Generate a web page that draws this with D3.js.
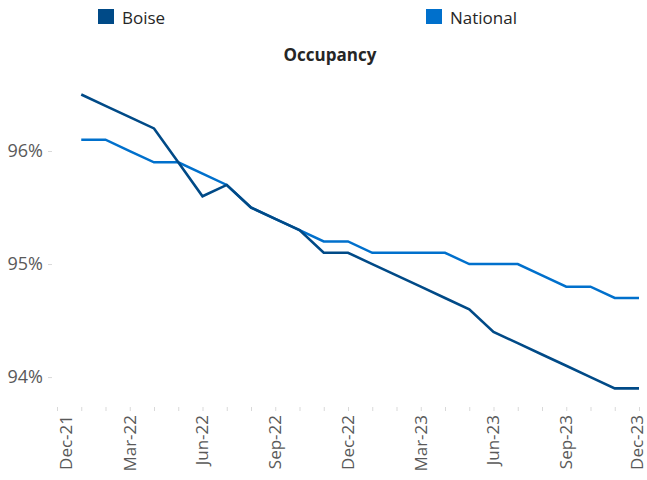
<!DOCTYPE html>
<html>
<head>
<meta charset="utf-8">
<script src="https://cdn.jsdelivr.net/npm/d3@7"></script>
<style>
  body { margin: 0; background: #fff; }
  text { font-family: "Open Sans", "Noto Sans", sans-serif; }
</style>
</head>
<body>
<div id="chart"></div>
<script>
// month categories on the date axis (Dec-21 .. Dec-23)
const months = ["Dec-21", "Jan-22", "Feb-22", "Mar-22", "Apr-22", "May-22", "Jun-22", "Jul-22",
  "Aug-22", "Sep-22", "Oct-22", "Nov-22", "Dec-22", "Jan-23", "Feb-23", "Mar-23", "Apr-23",
  "May-23", "Jun-23", "Jul-23", "Aug-23", "Sep-23", "Oct-23", "Nov-23", "Dec-23"];
const labelMonths = ["Dec-21", "Mar-22", "Jun-22", "Sep-22", "Dec-22", "Mar-23", "Jun-23", "Sep-23", "Dec-23"];

// series values start at Jan-22
const dataMonths = months.slice(1);
const boise = [96.5, 96.4, 96.3, 96.2, 95.9, 95.6, 95.7, 95.5, 95.4, 95.3, 95.1, 95.1,
  95.0, 94.9, 94.8, 94.7, 94.6, 94.4, 94.3, 94.2, 94.1, 94.0, 93.9, 93.9];
const national = [96.1, 96.1, 96.0, 95.9, 95.9, 95.8, 95.7, 95.5, 95.4, 95.3, 95.2, 95.2,
  95.1, 95.1, 95.1, 95.1, 95.0, 95.0, 95.0, 94.9, 94.8, 94.8, 94.7, 94.7];
const yTicks = [94, 95, 96];

const width = 647, height = 480;
const textColor = "#595959";
const boiseColor = "#004A87";
const nationalColor = "#0070CC";

const svg = d3.select("#chart").append("svg")
  .attr("width", width)
  .attr("height", height);

const x = d3.scalePoint()
  .domain(months)
  .range([57, 639]);

const y = d3.scaleLinear()
  .domain([93.7, 97])
  .range([411, 38]);

// y axis: labels plus short light ticks, no axis line
const yAxis = svg.append("g")
  .attr("transform", "translate(52,0)")
  .call(d3.axisLeft(y).tickValues(yTicks).tickSize(4).tickPadding(5).tickFormat(d => d + "%"));
yAxis.select(".domain").remove();
yAxis.selectAll(".tick line").attr("stroke", "#d9d9d9");
yAxis.selectAll(".tick text")
  .attr("fill", textColor)
  .attr("font-size", "18px");

// x axis: monthly minor ticks, quarterly labels
const xAxis = svg.append("g")
  .attr("transform", "translate(0,411)")
  .call(d3.axisBottom(x).tickSize(-4).tickFormat(""));
xAxis.select(".domain").remove();
xAxis.selectAll(".tick line").attr("stroke", "#d9d9d9");

// first label sits off the origin, last one kept inside the frame
const lastIdx = labelMonths.length - 1;
svg.append("g")
  .selectAll("text")
  .data(labelMonths)
  .enter()
  .append("text")
  .attr("transform", (d, i) => {
    const shift = i === 0 ? 9 : (i === lastIdx ? -2 : 0);
    return `translate(${x(d) + shift},415) rotate(-90)`;
  })
  .attr("dy", "0.35em")
  .attr("text-anchor", "end")
  .attr("font-size", "17px")
  .attr("fill", textColor)
  .text(d => d);

// lines
const line = d3.line()
  .x((d, i) => x(dataMonths[i]))
  .y(d => y(d));

svg.append("path")
  .datum(national)
  .attr("fill", "none")
  .attr("stroke", nationalColor)
  .attr("stroke-width", 2.5)
  .attr("d", line);

svg.append("path")
  .datum(boise)
  .attr("fill", "none")
  .attr("stroke", boiseColor)
  .attr("stroke-width", 2.6)
  .attr("d", line);

// legend
const legend = [
  { name: "Boise", color: boiseColor, x: 98 },
  { name: "National", color: nationalColor, x: 426 }
];
const lg = svg.append("g").selectAll("g")
  .data(legend)
  .enter()
  .append("g")
  .attr("transform", d => `translate(${d.x},9)`);
lg.append("rect")
  .attr("width", 16)
  .attr("height", 15)
  .attr("fill", d => d.color);
lg.append("text")
  .attr("x", 24)
  .attr("y", 15)
  .attr("font-size", "17px")
  .attr("fill", "#262626")
  .text(d => d.name);

// title
svg.append("text")
  .attr("x", 330)
  .attr("y", 61)
  .attr("text-anchor", "middle")
  .attr("font-size", "17px")
  .attr("font-weight", "bold")
  .attr("fill", "#262626")
  .text("Occupancy");
</script>
</body>
</html>
